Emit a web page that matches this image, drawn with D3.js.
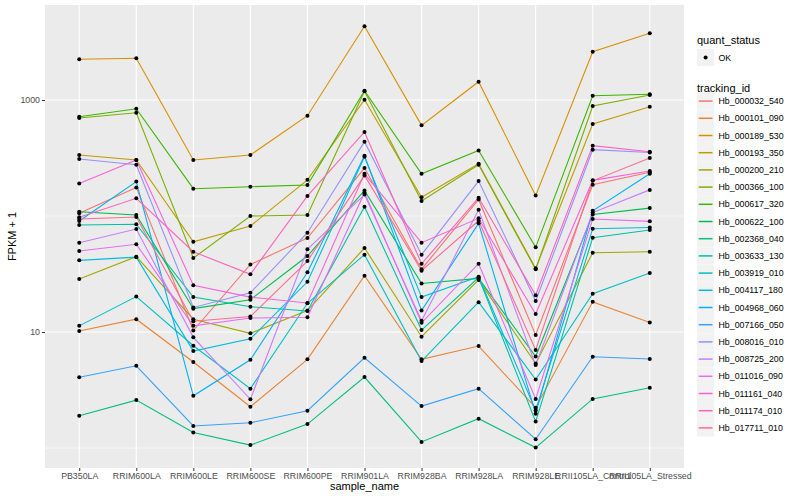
<!DOCTYPE html>
<html>
<head>
    <meta charset="utf-8">
    <title>FPKM by sample</title>
    <script src="https://d3js.org/d3.v7.min.js"></script>
    <style>
        body { margin: 0; background: #fff; }
        text { font-family: "Liberation Sans", Arial, sans-serif; }
    </style>
</head>
<body>
<div id="chart"></div>
<script>
    // sample names along the x axis
    const samples = ["PB350LA", "RRIM600LA", "RRIM600LE", "RRIM600SE", "RRIM600PE", "RRIM901LA",
        "RRIM928BA", "RRIM928LA", "RRIM928LE", "RRII105LA_Control", "RRII105LA_Stressed"];

    const trackingIds = ["Hb_000032_540", "Hb_000101_090", "Hb_000189_530", "Hb_000193_350", "Hb_000200_210",
        "Hb_000366_100", "Hb_000617_320", "Hb_000622_100", "Hb_002368_040", "Hb_003633_130",
        "Hb_003919_010", "Hb_004117_180", "Hb_004968_060", "Hb_007166_050", "Hb_008016_010",
        "Hb_008725_200", "Hb_011016_090", "Hb_011161_040", "Hb_011174_010", "Hb_017711_010"];

    const hueColors = ["#F8766D", "#EA8331", "#D89000", "#C09B00", "#A3A500", "#7CAE00", "#39B600", "#00BB4E",
        "#00BF7D", "#00C1A3", "#00BFC4", "#00BAE0", "#00B0F6", "#35A2FF", "#9590FF", "#C77CFF",
        "#E76BF3", "#FA62DB", "#FF62BC", "#FF6C91"];

    // FPKM + 1, one value per sample (same order as samples)
    const hb_000032_540 = [105.5, 176, 10.3, 38.2, 64.6, 259, 34.8, 139, 9.42, 186, 238];
    const hb_000101_090 = [10.2, 12.9, 5.51, 2.27, 5.82, 30.6, 5.82, 7.57, 2.23, 18.2, 12.1];
    const hb_000189_530 = [2243, 2288, 304, 336, 732, 4318, 605, 1438, 150, 2609, 3758];
    const hb_000193_350 = [336, 304, 60.0, 82.0, 205, 1006, 145, 282, 35.4, 621, 875];
    const hb_000200_210 = [28.6, 44.6, 12.9, 9.74, 15.3, 53.0, 9.11, 28.1, 5.35, 48.3, 49.2];
    const hb_000366_100 = [700, 777, 43.4, 100, 102, 1189, 135, 277, 34.7, 888, 1105];
    const hb_000617_320 = [718, 841, 172, 179, 185, 1203, 231, 367, 53.7, 1089, 1120];
    const hb_000622_100 = [109, 102, 15.9, 19.0, 45.2, 166, 26.2, 29.0, 6.15, 103, 117];
    const hb_002368_040 = [1.90, 2.59, 1.36, 1.06, 1.61, 4.09, 1.13, 1.79, 1.01, 2.65, 3.31];
    const hb_003633_130 = [83.6, 85.0, 20.0, 16.5, 15.2, 120, 10.4, 29.5, 1.69, 65.0, 75.7];
    const hb_003919_010 = [11.3, 20.2, 7.62, 3.25, 17.7, 46.4, 5.62, 18.1, 3.89, 21.4, 32.3];
    const hb_004117_180 = [41.5, 44.2, 6.86, 8.75, 27.1, 324, 20.0, 30.0, 2.11, 77.7, 79.6];
    const hb_004968_060 = [90.5, 198, 2.82, 5.76, 32.7, 331, 15.3, 86.5, 1.98, 111, 231];
    const hb_007166_050 = [4.07, 5.12, 1.55, 1.65, 2.10, 6.00, 2.30, 3.25, 1.19, 6.13, 5.85];
    const hb_008016_010 = [310, 277, 16.3, 21.8, 71.8, 437, 46.4, 200, 18.5, 373, 353];
    const hb_008725_200 = [58.9, 77.2, 9.00, 2.63, 51.6, 153, 12.5, 113, 5.19, 107, 168];
    const hb_011016_090 = [49.9, 57.1, 11.3, 13.2, 13.4, 159, 12.0, 38.8, 2.65, 94.2, 90.0];
    const hb_011161_040 = [191, 304, 25.3, 20.0, 17.8, 231, 58.9, 95.5, 14.3, 203, 244];
    const hb_011174_010 = [97.4, 142, 49.2, 31.5, 149, 530, 38.7, 144, 20.8, 404, 358];
    const hb_017711_010 = [94.2, 98.0, 12.4, 13.6, 40.9, 224, 33.8, 91.1, 7.0, 201, 316];

    const seriesValues = [hb_000032_540, hb_000101_090, hb_000189_530, hb_000193_350, hb_000200_210,
        hb_000366_100, hb_000617_320, hb_000622_100, hb_002368_040, hb_003633_130,
        hb_003919_010, hb_004117_180, hb_004968_060, hb_007166_050, hb_008016_010,
        hb_008725_200, hb_011016_090, hb_011161_040, hb_011174_010, hb_017711_010];

    const yMajor = [10, 1000];
    const yMinor = [1, 100];

    let W = 800, H = 500;
    let panel = {left: 45, right: 684, top: 5, bottom: 468};

    let svg = d3.select("#chart").append("svg")
        .attr("width", W)
        .attr("height", H);

    svg.append("rect").attr("width", W).attr("height", H).attr("fill", "white");

    let x = d3.scalePoint()
        .domain(samples)
        .range([panel.left, panel.right])
        .padding(0.6);

    let y = d3.scaleLog()
        .domain([0.673, 6590])
        .range([panel.bottom, panel.top]);

    // panel background + grid
    svg.append("rect")
        .attr("x", panel.left).attr("y", panel.top)
        .attr("width", panel.right - panel.left)
        .attr("height", panel.bottom - panel.top)
        .attr("fill", "#EBEBEB");

    svg.append("g").selectAll("line")
        .data(yMinor)
        .join("line")
            .attr("x1", panel.left).attr("x2", panel.right)
            .attr("y1", d => y(d)).attr("y2", d => y(d))
            .attr("stroke", "white").attr("stroke-width", 0.55);

    svg.append("g").selectAll("line")
        .data(yMajor)
        .join("line")
            .attr("x1", panel.left).attr("x2", panel.right)
            .attr("y1", d => y(d)).attr("y2", d => y(d))
            .attr("stroke", "white").attr("stroke-width", 1.1);

    svg.append("g").selectAll("line")
        .data(samples)
        .join("line")
            .attr("x1", d => x(d)).attr("x2", d => x(d))
            .attr("y1", panel.top).attr("y2", panel.bottom)
            .attr("stroke", "white").attr("stroke-width", 1.1);

    // lines
    let series = trackingIds.map((id, i) => ({
        id: id,
        color: hueColors[i],
        values: seriesValues[i].map((v, j) => ({sample: samples[j], value: v}))
    }));

    let line = d3.line()
        .x(d => x(d.sample))
        .y(d => y(d.value));

    svg.append("g").selectAll("path")
        .data(series)
        .join("path")
            .attr("d", d => line(d.values))
            .attr("fill", "none")
            .attr("stroke", d => d.color)
            .attr("stroke-width", 1.1);

    svg.append("g").selectAll("circle")
        .data(series.flatMap(s => s.values))
        .join("circle")
            .attr("cx", d => x(d.sample))
            .attr("cy", d => y(d.value))
            .attr("r", 2)
            .attr("fill", "black");

    // axes
    let yAxis = svg.append("g")
        .attr("transform", `translate(${panel.left},0)`)
        .call(d3.axisLeft(y).tickValues(yMajor).tickFormat(d3.format("d")).tickSize(3).tickPadding(2));
    yAxis.select(".domain").remove();

    let xAxis = svg.append("g")
        .attr("transform", `translate(0,${panel.bottom})`)
        .call(d3.axisBottom(x).tickSize(3).tickPadding(2));
    xAxis.select(".domain").remove();

    svg.selectAll(".tick line").attr("stroke", "#333333");
    svg.selectAll(".tick text")
        .attr("fill", "#4D4D4D")
        .style("font-size", "8.8px")
        .style("font-family", "'Liberation Sans', Arial, sans-serif");

    svg.append("text")
        .attr("x", (panel.left + panel.right) / 2)
        .attr("y", 490)
        .attr("text-anchor", "middle")
        .style("font-size", "11px")
        .text("sample_name");

    svg.append("text")
        .attr("transform", `translate(16,${(panel.top + panel.bottom) / 2}) rotate(-90)`)
        .attr("text-anchor", "middle")
        .style("font-size", "11px")
        .text("FPKM + 1");

    // legend
    let lg = svg.append("g").attr("transform", "translate(697,0)");
    let keySize = 17.2;

    lg.append("text").attr("x", 0).attr("y", 44).style("font-size", "11px").text("quant_status");
    lg.append("rect").attr("x", 0).attr("y", 49).attr("width", keySize).attr("height", keySize).attr("fill", "#F2F2F2");
    lg.append("circle").attr("cx", keySize / 2).attr("cy", 49 + keySize / 2).attr("r", 2).attr("fill", "black");
    lg.append("text").attr("x", 21.5).attr("y", 61).style("font-size", "8.8px").attr("fill", "black").text("OK");

    lg.append("text").attr("x", 0).attr("y", 92).style("font-size", "11px").text("tracking_id");

    let items = lg.append("g").selectAll("g")
        .data(series)
        .join("g")
            .attr("transform", (d, i) => `translate(0,${92.5 + i * keySize})`);

    items.append("rect")
        .attr("width", keySize).attr("height", keySize)
        .attr("fill", "#F2F2F2");
    items.append("line")
        .attr("x1", 1.7).attr("x2", keySize - 1.7)
        .attr("y1", keySize / 2).attr("y2", keySize / 2)
        .attr("stroke", d => d.color)
        .attr("stroke-width", 1.5);
    items.append("text")
        .attr("x", 21.5).attr("y", keySize / 2 + 3.2)
        .style("font-size", "8.8px")
        .text(d => d.id);
</script>
</body>
</html>
